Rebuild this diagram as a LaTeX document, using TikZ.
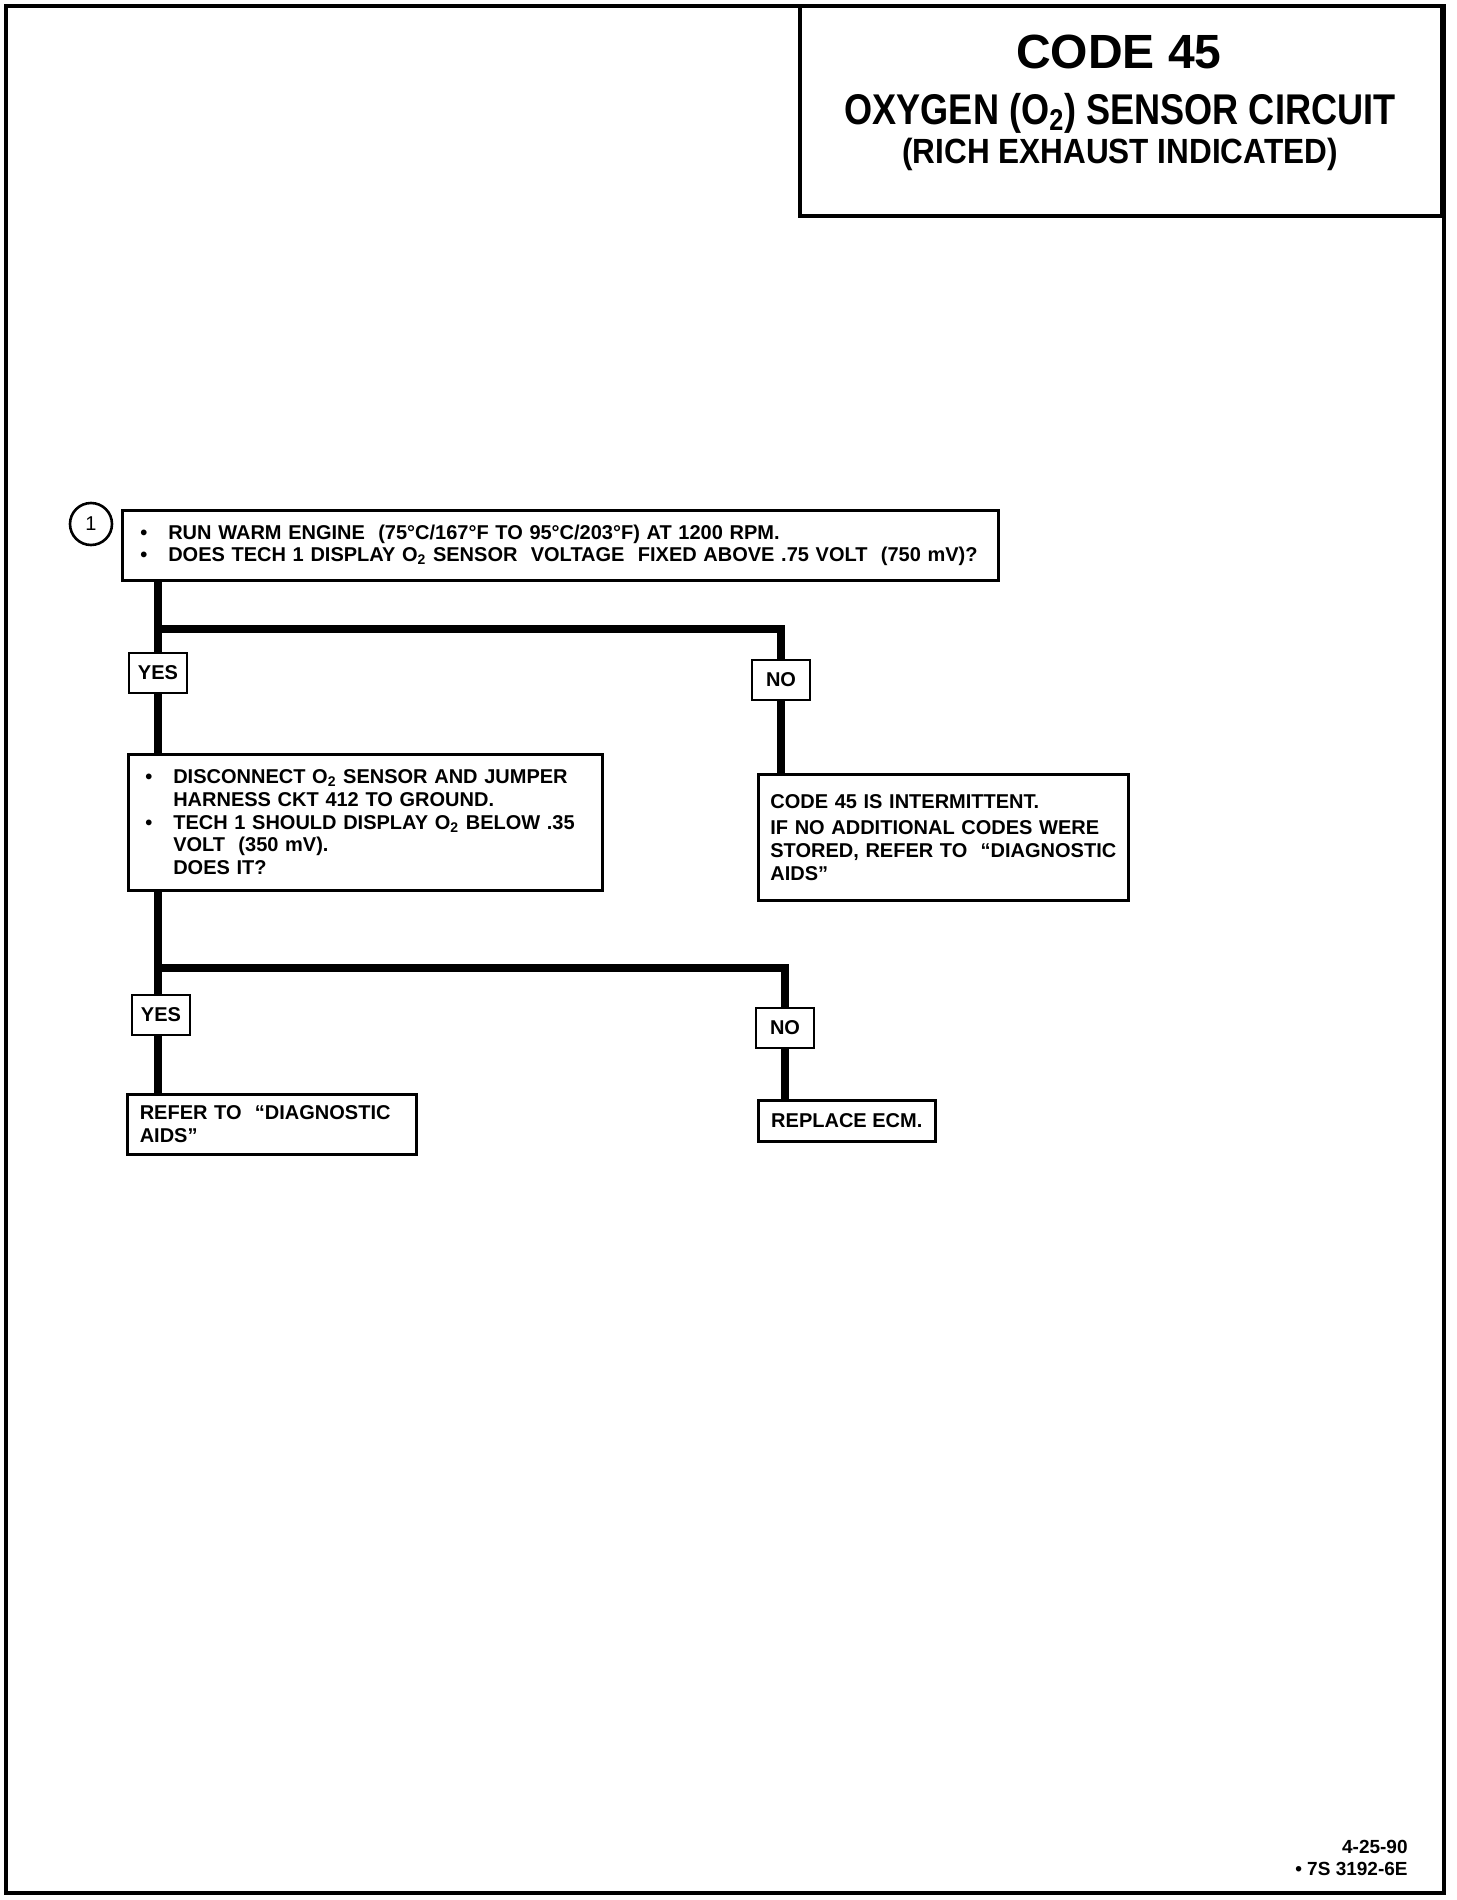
\documentclass[tikz,border=0pt]{standalone}
\usepackage{fontspec}
\setmainfont{Liberation Sans}
\newfontfamily\narrowa{Liberation Sans}[FakeStretch=0.84]
\newfontfamily\narrowb{Liberation Sans}[FakeStretch=0.9]
\usetikzlibrary{positioning,calc}
\newcommand\blt{\makebox[14pt][l]{\textbullet}}
\newcommand\ind{\hspace*{14pt}}

\begin{document}
\begin{tikzpicture}[x=0.5pt,y=-0.5pt,
  txt/.style={font=\bfseries\fontsize{10}{11.3}\selectfont},
  box/.style={txt,draw,line width=1.3pt,anchor=north west,inner ysep=0pt,align=left},
  tag/.style={txt,draw,line width=1.3pt,inner sep=0pt,minimum width=29pt,minimum height=20pt},
  head/.style={inner sep=0pt},
  trunk/.style={line width=3.6pt}]
  \useasboundingbox (0,0) rectangle (1456,1900);
  \draw[line width=2pt] (6,6) rectangle (1444,1893);
  \draw[line width=1.6pt] (800,6) rectangle (1442,216);
  \node[head,font=\bfseries\fontsize{24}{24}\selectfont] (code) at (1119,52) {CODE 45};
  \node[head,font=\narrowa\bfseries\fontsize{21.5}{21.5}\selectfont] (title) at (1120,113) {OXYGEN (O\textsubscript{2}) SENSOR CIRCUIT};
  \node[head,font=\narrowb\bfseries\fontsize{17.5}{17.5}\selectfont] (sub) at (1120,154) {(RICH EXHAUST INDICATED)};

  \node[box,inner xsep=9pt,minimum width=438pt,minimum height=35pt,text width=420pt] (q1) at (121,509)
    {\blt RUN WARM ENGINE\ \ (75°C/167°F TO 95°C/203°F) AT 1200 RPM.\\
     \blt DOES TECH 1 DISPLAY O\textsubscript{2} SENSOR\ \ VOLTAGE\ \ FIXED ABOVE .75 VOLT\ \ (750 mV)?};
  \node[circle,draw,line width=1.3pt,inner sep=0pt,minimum size=21pt,font=\fontsize{10}{11}\selectfont] (n1) at (91,524) {1};

  \node[tag] (yes1) at (158,673) {YES};
  \node[tag] (no1) at (781,680) {NO};
  \node[box,inner xsep=8.5pt,minimum width=237pt,minimum height=68pt,text width=220pt] (q2) at (127,753)
    {\blt DISCONNECT O\textsubscript{2} SENSOR AND JUMPER\\
     \ind HARNESS CKT 412 TO GROUND.\\
     \blt TECH 1 SHOULD DISPLAY O\textsubscript{2} BELOW .35\\
     \ind VOLT\ \ (350 mV).\\
     \ind DOES IT?};
  \node[box,inner xsep=6pt,minimum width=185pt,minimum height=63pt,text width=173pt] (r1) at (757,773)
    {CODE 45 IS INTERMITTENT.\\[2pt]
     IF NO ADDITIONAL CODES WERE\\
     STORED, REFER TO\ \ ``DIAGNOSTIC\\
     AIDS''};

  \node[tag] (yes2) at (161,1015) {YES};
  \node[tag] (no2) at (785,1028) {NO};
  \node[box,inner xsep=6pt,minimum width=144.5pt,minimum height=30pt,text width=132pt] (r2) at (126,1093)
    {REFER TO\ \ ``DIAGNOSTIC\\ AIDS''};
  \node[box,inner xsep=5.5pt,minimum width=88.5pt,minimum height=20.5pt] (r3) at (757,1099)
    {REPLACE ECM.};

  \coordinate (s1) at (158,629);
  \coordinate (s2) at (158,968);
  \draw[trunk] (q1.south -| yes1) -- (yes1);
  \draw[trunk] (yes1) -- (yes1 |- q2.north);
  \draw[trunk] (s1) -| (no1);
  \draw[trunk] (no1) -- (no1 |- r1.north);
  \draw[trunk] (q2.south -| s2) -- (yes2.north -| s2);
  \draw[trunk] (yes2.south -| s2) -- (s2 |- r2.north);
  \draw[trunk] (s2) -| (no2);
  \draw[trunk] (no2) -- (no2 |- r3.north);

  \node[txt,font=\bfseries\fontsize{9.5}{11}\selectfont,align=right,anchor=north east,inner sep=0pt] (date) at (1408,1840)
    {4-25-90\\ \textbullet\ 7S 3192-6E};
\end{tikzpicture}
\end{document}
